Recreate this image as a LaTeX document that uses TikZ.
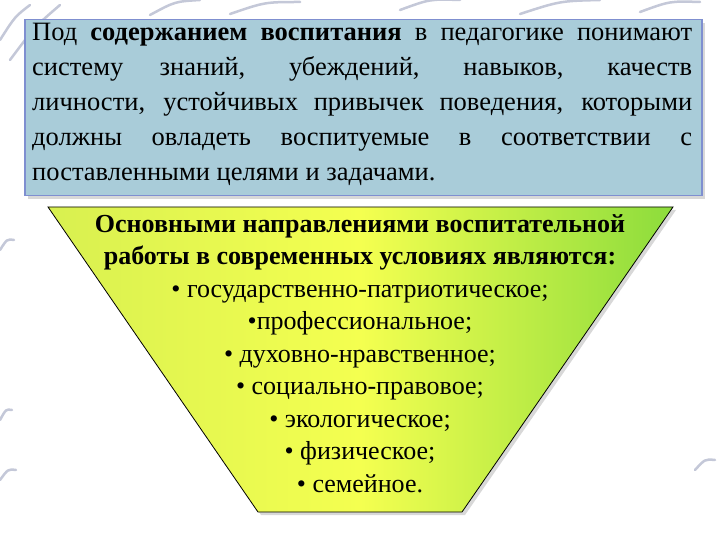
\documentclass[tikz,border=0pt]{standalone}
\usepackage{fontspec}
\setmainfont{Liberation Serif}
\usetikzlibrary{shadows}
\definecolor{boxfill}{HTML}{A9CCD9}
\definecolor{boxline}{HTML}{7F8FD0}
\definecolor{deco}{HTML}{C4C8D8}
\definecolor{fl}{HTML}{D8F050}
\definecolor{fm}{HTML}{F4FF50}
\definecolor{fr}{HTML}{8CDC3C}
\newcommand{\jline}[1]{\makebox[660pt][s]{#1}}
\begin{document}
\begin{tikzpicture}[x=1pt,y=-1pt,
  decoline/.style={deco,line width=2.5pt,line cap=round},
  txtbox/.style={draw=boxline,line width=1.5pt,fill=boxfill,drop shadow={shadow xshift=3pt,shadow yshift=-3pt,fill=gray!60}},
  funnel/.style={draw=black,line width=0.8pt,left color=fl,right color=fr,middle color=fm,drop shadow={shadow xshift=3pt,shadow yshift=-3pt,fill=gray!60}}]
\useasboundingbox (0,0) rectangle (720,540);
\fill[white] (0,0) rectangle (720,540);
% decorative strokes
\foreach \a/\b/\c/\d in {0/40/30/5, 10/60/60/5, 150/15/200/0, 230/14/300/2, 400/10/460/0, 520/14/600/0, 640/12/700/2, 0/250/14/240, 0/420/12/410, 0/480/16/470, 695/470/715/460}
  \draw[decoline] (\a,\b) .. controls ({(\a+\c)/2},{(\b+\d)/2-6}) .. (\c,\d);
\node[txtbox,minimum width=677pt,minimum height=176pt,anchor=north west] (top) at (24,19) {};
\node[anchor=north west,align=left,inner sep=0pt,font=\fontsize{26.5}{35}\selectfont] (toptext) at (32,23)
{\jline{Под \textbf{содержанием воспитания} в педагогике понимают}\\
\jline{системy знаний, убеждений, навыков, качеств}\\
\jline{личности, устойчивых привычек поведения, которыми}\\
\jline{должны овладеть воспитуемые в соответствии с}\\
поставленными целями и задачами.};
\path[funnel] (48,207) -- (673,207) -- (462,512) -- (258,512) -- cycle;
\coordinate (fc) at (360,214);
\node[anchor=north,align=center,inner sep=0pt,font=\fontsize{26}{32.5}\selectfont] (ftext) at (fc)
{\textbf{Основными направлениями воспитательной}\\
\textbf{работы в современных условиях являются:}\\
• государственно-патриотическое;\\
•профессиональное;\\
• духовно-нравственное;\\
• социально-правовое;\\
• экологическое;\\
• физическое;\\
• семейное.};
\end{tikzpicture}
\end{document}
